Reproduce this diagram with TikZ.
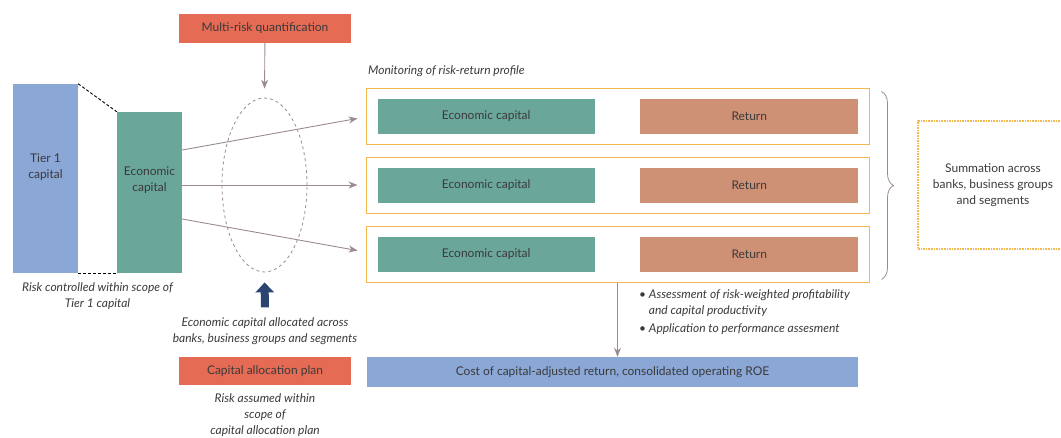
\documentclass[tikz,border=0pt]{standalone}
\usepackage{fontspec}
\setmainfont{Lato}
\usetikzlibrary{arrows.meta,positioning,calc,shapes.geometric,decorations.pathreplacing}
\definecolor{Coral}{HTML}{E56B55}
\definecolor{Teal}{HTML}{6BA69B}
\definecolor{Sky}{HTML}{8BA7D6}
\definecolor{Clay}{HTML}{CF9175}
\definecolor{Amber}{HTML}{F2BA4E}
\definecolor{Navy}{HTML}{2B4570}
\definecolor{Mauve}{HTML}{9A8B92}
\definecolor{Ink}{HTML}{3A3A3A}

\begin{document}
\begin{tikzpicture}[
  x=1pt,y=1pt,
  every node/.style={font=\fontsize{12}{16}\selectfont,text=Ink,align=center,inner sep=0pt},
  fillbox/.style={minimum width=65pt,minimum height=161pt},
  redbox/.style={fill=Coral,minimum width=172pt,minimum height=29pt},
  rowbox/.style={draw=Amber,line width=1pt,minimum width=503pt,minimum height=56pt},
  ecbox/.style={fill=Teal,minimum width=217pt,minimum height=35pt},
  retbox/.style={fill=Clay,minimum width=218pt,minimum height=35pt},
  note/.style={font=\fontsize{12}{16}\selectfont\itshape},
  arr/.style={-{Stealth[length=9pt,width=7pt]},Mauve,line width=0.9pt},
  fatarr/.style={-{Triangle[length=10pt,width=18pt]},Navy,line width=8pt}
]
\useasboundingbox (0,0) rectangle (1061,-437);
% left side
\node[fillbox,fill=Sky,minimum height=189pt] (tier) at (45.5,-178.5) {Tier 1\\capital\\[8pt]};
\node[fillbox,fill=Teal] (ecap) at (149.5,-192.5) {Economic\\capital\\[10pt]};
\draw[densely dashed,line width=0.9pt] (tier.north east) -- (ecap.north west);
\draw[densely dashed,line width=0.9pt] (tier.south east) -- (ecap.south west);
\node[note,below=9pt of {$(tier.south)!0.5!(ecap.south)$}] (t1note) {Risk controlled within scope of\\Tier 1 capital};

% allocation ring
\node[redbox] (mrq) at (265,-28.5) {Multi-risk quantification};
\node[ellipse,draw=Mauve,dashed,line width=0.8pt,minimum width=85pt,minimum height=174pt] (ell) at (264.5,-185) {};
\draw[arr,shorten >=9pt] (mrq) -- (ell.north);
\node[note] (alloc) at (265,-331) {Economic capital allocated across\\banks, business groups and segments};
\draw[fatarr,shorten <=10pt,shorten >=10pt] (alloc.north) -- (ell.south);
\node[redbox,minimum height=28pt] (cap) at (265,-371) {Capital allocation plan};
\node[note,below=8pt of cap] (assumed) {Risk assumed within\\scope of\\capital allocation plan};

% risk-return rows
\node[note,anchor=base west] (mon) at (368,-74) {Monitoring of risk-return profile};
\foreach \i/\y in {1/116,2/185,3/254}{
  \node[rowbox] (r\i) at (617.5,-\y) {};
  \node[ecbox,right=12pt of r\i.west] (ec\i) {Economic capital};
  \node[retbox,left=11pt of r\i.east] (ret\i) {Return};
}
\draw[arr,shorten >=8pt] ([yshift=42.5pt]ecap.east) -- ([yshift=-1pt]r1.west);
\draw[arr,shorten >=8pt] ([yshift=7.5pt]ecap.east) -- (r2.west);
\draw[arr,shorten >=8pt] ([yshift=-26.5pt]ecap.east) -- ([yshift=2pt]r3.west);

% summation
\draw[decorate,decoration={brace,amplitude=12pt},Mauve,line width=0.8pt] ([xshift=12pt,yshift=-4pt]r1.north east) -- ([xshift=12pt,yshift=3pt]r3.south east);
\node[draw=Amber,densely dotted,line width=1.6pt,minimum width=150pt,minimum height=128pt] (sum) at (993,-185) {Summation across\\banks, business groups\\and segments};

% result
\node[fill=Sky,minimum width=491pt,minimum height=30pt] (cost) at (612.5,-372) {Cost of capital-adjusted return, consolidated operating ROE};
\draw[arr] (r3.south) -- (r3.south |- cost.north);
\node[note,align=left,anchor=north west] (bul) at (639,-289) {\textbullet\ Assessment of risk-weighted profitability\\\phantom{\textbullet\ }and capital productivity\\[2pt]\textbullet\ Application to performance assesment};
\end{tikzpicture}
\end{document}
